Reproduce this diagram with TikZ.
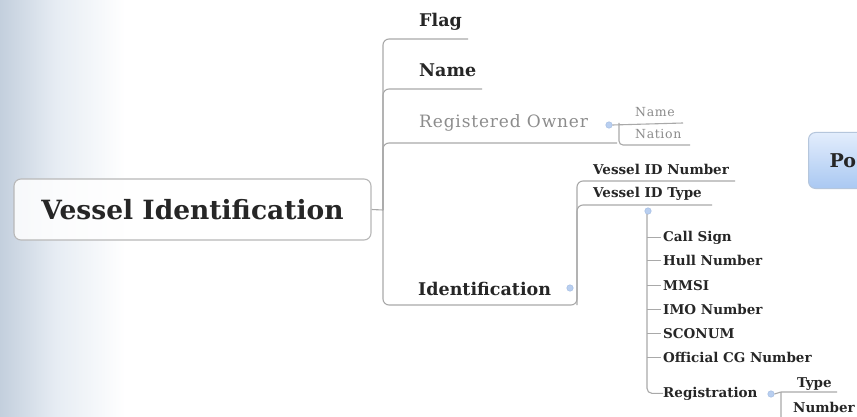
\documentclass[tikz,border=0pt]{standalone}
\usepackage{fontspec}
\setmainfont{DejaVu Serif}
\newfontfamily\spacedfont[LetterSpace=5]{DejaVu Serif}
\definecolor{linec}{HTML}{A9A9A9}
\definecolor{boxc}{HTML}{B8B8B8}
\definecolor{txt}{HTML}{262626}
\definecolor{gtxt}{HTML}{8C8C8C}
\definecolor{dotc}{HTML}{B9CFF0}
\definecolor{dotd}{HTML}{9DB8E0}
\definecolor{bgb}{HTML}{C3CFDD}
\definecolor{bgm}{HTML}{E6ECF3}
\definecolor{pot}{HTML}{E3EDFC}
\definecolor{pob}{HTML}{A9C8F2}
\definecolor{pod}{HTML}{B5C6DC}
\begin{document}
\begin{tikzpicture}[x=1pt,y=-1pt,
  conn/.style={draw=linec, line width=1.1pt},
  rootbox/.style={draw=boxc, line width=1.1pt, rounded corners=7pt, fill=white, fill opacity=0.85, text opacity=1,
    minimum width=357pt, minimum height=61pt, inner sep=0, text=txt, font=\fontsize{26.5}{26.5}\selectfont\bfseries},
  lvA/.style={anchor=base west, inner sep=0, text=txt, font=\fontsize{17.5}{17.5}\selectfont\bfseries},
  lvG/.style={anchor=base west, inner sep=0, text=gtxt, font=\spacedfont\fontsize{17}{17}\selectfont},
  lvB/.style={anchor=base west, inner sep=0, text=txt, font=\fontsize{13.5}{14}\selectfont\bfseries},
  gsmall/.style={anchor=base west, inner sep=0, text=gtxt, font=\spacedfont\fontsize{12.5}{13}\selectfont},
  cdot/.style={circle, fill=dotc, draw=dotd, inner sep=0, minimum size=6.5pt, line width=0.4pt},
  pobox/.style={draw=pod, line width=1pt, rounded corners=7pt, top color=pot, bottom color=pob,
    anchor=north west, minimum height=56pt, text width=60pt, inner xsep=21pt, align=left,
    text=txt, font=\fontsize{19}{19}\selectfont\bfseries},
]
\useasboundingbox (0,0) rectangle (857,417);
\begin{scope}
\clip (0,0) rectangle (857,417);
% background texture
\fill[white] (0,0) rectangle (857,417);
\shade[left color=bgb, right color=bgm] (0,0) rectangle (55,417);
\shade[left color=bgm, right color=white] (55,0) rectangle (125,417);

% nodes
\node[rootbox] (root) at (192.5,209.5) {Vessel Identification};
\node[lvA] (flag) at (419,27) {Flag};
\node[lvA] (name) at (419,77) {Name};
\node[lvG] (owner) at (419,128) {Registered Owner};
\node[lvA] (ident) at (418,295) {Identification};
\node[gsmall] (oname) at (635,117) {Name};
\node[gsmall] (onation) at (635,139) {Nation};
\node[lvB] (vidn) at (593,175) {Vessel ID Number};
\node[lvB] (vidt) at (593,197) {Vessel ID Type};
\node[lvB] (call) at (663,241) {Call Sign};
\node[lvB] (hull) at (663,265.5) {Hull Number};
\node[lvB] (mmsi) at (663,290) {MMSI};
\node[lvB] (imo) at (663,314.5) {IMO Number};
\node[lvB] (sconum) at (663,338.5) {SCONUM};
\node[lvB] (ocg) at (663,362.5) {Official CG Number};
\node[lvB] (reg) at (663,397) {Registration};
\node[lvB] (rtype) at (797,387) {Type};
\node[lvB] (rnum) at (793,412.5) {Number};
\node[pobox] (po) at (808,132) {Po};

% collapse dots
\node[cdot] (odot) at (609,125) {};
\node[cdot] (idot) at (570,288) {};
\node[cdot] (vdot) at (648,211) {};
\node[cdot] (rdot) at (771,394) {};

% underline ends / junctions
\coordinate (spine) at (383,210);
\coordinate (flagU) at (468,39);
\coordinate (nameU) at (482,89);
\coordinate (ownerU) at (617,143);
\coordinate (identU) at (577,305);
\coordinate (vidnU) at (735,181);
\coordinate (vidtU) at (712,205);
\coordinate (os) at (619,123);
\coordinate (onameU) at (683,123);
\coordinate (onationU) at (690,145);
\coordinate (vs) at (647,214);
\coordinate (rs) at (781,392);
\coordinate (rtypeU) at (837,392);
\coordinate (rnumU) at (860,430);

% connectors
\draw[conn] (root.east) -- (spine);
\draw[conn, rounded corners=6pt] (spine) |- (flagU);
\draw[conn, rounded corners=6pt] (spine) |- (nameU);
\draw[conn, rounded corners=6pt] (spine) |- (ownerU);
\draw[conn, rounded corners=6pt] (spine) |- (identU) |- (vidnU);
\draw[conn, rounded corners=6pt] (identU) |- (vidtU);
\draw[conn] (odot.east) -- (onameU);
\draw[conn, rounded corners=4pt] (os) |- (onationU);
\draw[conn, rounded corners=5pt] (vs) |- (reg.west);
\foreach \n in {call,hull,mmsi,imo,sconum,ocg}
  \draw[conn] (vs |- \n.west) -- ([xshift=-2pt]\n.west);
\draw[conn] (rdot.east) -- (rs) -- (rtypeU);
\draw[conn, rounded corners=4pt] (rs) |- (rnumU);
\end{scope}
\end{tikzpicture}
\end{document}
